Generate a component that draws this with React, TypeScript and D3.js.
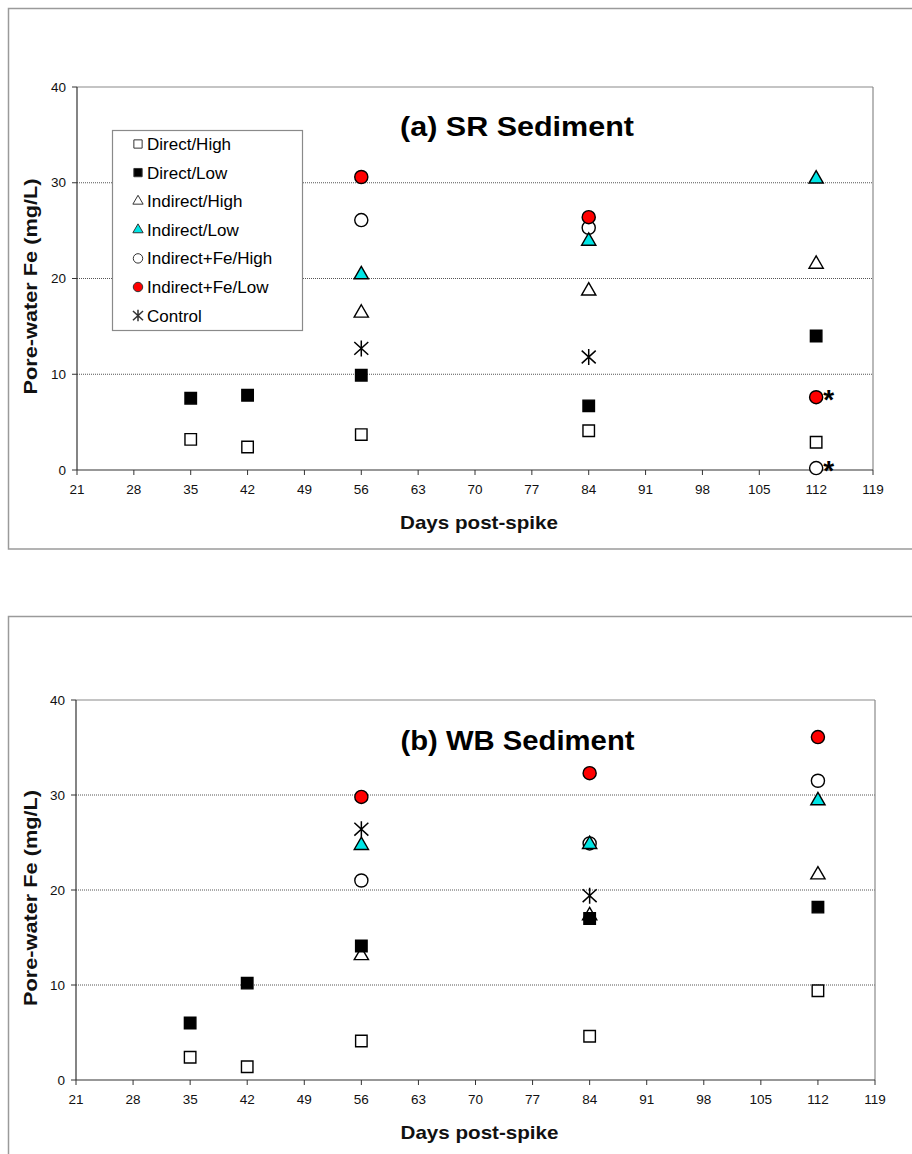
import React from "react";
import * as d3 from "d3";

// Sampling days (x positions of every measurement)
const days = [35, 42, 56, 84, 112];

// Axis tick labels
const xTicks = [21, 28, 35, 42, 49, 56, 63, 70, 77, 84, 91, 98, 105, 112, 119];
const yTicks = [0, 10, 20, 30, 40];
const gridValues = [10, 20, 30];

// Treatment series (legend order)
const seriesNames = [
  "Direct/High",
  "Direct/Low",
  "Indirect/High",
  "Indirect/Low",
  "Indirect+Fe/High",
  "Indirect+Fe/Low",
  "Control",
];

// (a) SR sediment, pore-water Fe (mg/L) per sampling day
const srDirectHigh = [3.2, 2.4, 3.7, 4.1, 2.9];
const srDirectLow = [7.5, 7.8, 9.9, 6.7, 14.0];
const srIndirectHigh = [null, null, 16.4, 18.7, 21.5];
const srIndirectLow = [null, null, 20.4, 23.9, 30.4];
const srIndirectFeHigh = [null, null, 26.1, 25.3, 0.2];
const srIndirectFeLow = [null, null, 30.6, 26.4, 7.6];
const srControl = [null, null, 12.7, 11.8, null];

// (b) WB sediment, pore-water Fe (mg/L) per sampling day
const wbDirectHigh = [2.4, 1.4, 4.1, 4.6, 9.4];
const wbDirectLow = [6.0, 10.2, 14.1, 17.0, 18.2];
const wbIndirectHigh = [null, null, 13.1, 17.3, 21.6];
const wbIndirectLow = [null, null, 24.7, 24.8, 29.4];
const wbIndirectFeHigh = [null, null, 21.0, 24.9, 31.5];
const wbIndirectFeLow = [null, null, 29.8, 32.3, 36.1];
const wbControl = [null, null, 26.4, 19.4, null];

// Points flagged with an asterisk in panel (a)
const srFlagged = [
  { series: "Indirect+Fe/Low", day: 112 },
  { series: "Indirect+Fe/High", day: 112 },
];

type Vals = (number | null)[];

const srValues: Vals[] = [
  srDirectHigh,
  srDirectLow,
  srIndirectHigh,
  srIndirectLow,
  srIndirectFeHigh,
  srIndirectFeLow,
  srControl,
];
const wbValues: Vals[] = [
  wbDirectHigh,
  wbDirectLow,
  wbIndirectHigh,
  wbIndirectLow,
  wbIndirectFeHigh,
  wbIndirectFeLow,
  wbControl,
];

type MarkerStyle = { kind: string; fill: string };
const markerStyles: Record<string, MarkerStyle> = {
  "Direct/High": { kind: "square", fill: "#ffffff" },
  "Direct/Low": { kind: "square", fill: "#000000" },
  "Indirect/High": { kind: "triangle", fill: "#ffffff" },
  "Indirect/Low": { kind: "triangle", fill: "#00e5e5" },
  "Indirect+Fe/High": { kind: "circle", fill: "#ffffff" },
  "Indirect+Fe/Low": { kind: "circle", fill: "#ff0000" },
  Control: { kind: "star", fill: "none" },
};

// open shapes first, filled on top, control last
const drawOrder = [0, 2, 4, 1, 3, 5, 6];

const FONT = "'Liberation Sans', Arial, Helvetica, sans-serif";

function markerPath(kind: string, scale: number): string {
  if (kind === "square") return d3.symbol(d3.symbolSquare, 132 * scale * scale)()!;
  if (kind === "circle") return d3.symbol(d3.symbolCircle, 135 * scale * scale)()!;
  if (kind === "triangle") return d3.symbol(d3.symbolTriangle, 88 * scale * scale)()!;
  // control: an X crossed with a vertical stroke
  const h = 8 * scale;
  const w = 7 * scale;
  const p = d3.path();
  p.moveTo(0, -h);
  p.lineTo(0, h);
  p.moveTo(-w, -h * 0.8);
  p.lineTo(w, h * 0.8);
  p.moveTo(w, -h * 0.8);
  p.lineTo(-w, h * 0.8);
  return p.toString();
}

function Marker({ name, x, y, scale = 1, stroke = "#000", sw = 1.4 }: any) {
  const st = markerStyles[name];
  const d = markerPath(st.kind, scale);
  return (
    <path
      d={d}
      transform={`translate(${x},${y})`}
      fill={st.fill}
      stroke={stroke}
      strokeWidth={st.kind === "star" ? 1.5 : sw}
    />
  );
}

type PanelProps = {
  frameTop: number;
  frameBottom: number;
  left: number;
  right: number;
  top: number;
  bottom: number;
  title: string;
  titleY: number;
  values: Vals[];
  flagged?: { series: string; day: number }[];
  legend?: boolean;
};

function Panel(p: PanelProps) {
  const x = d3.scaleLinear().domain([21, 119]).range([p.left, p.right]);
  const y = d3.scaleLinear().domain([0, 40]).range([p.bottom, p.top]);
  const cx = (p.left + p.right) / 2 + 42;
  const cyLabel = (p.top + p.bottom) / 2 + 8;

  return (
    <g>
      {/* chart frame */}
      <rect
        x={8.5}
        y={p.frameTop}
        width={930}
        height={p.frameBottom - p.frameTop}
        fill="#ffffff"
        stroke="#9a9a9a"
        strokeWidth={1.5}
      />
      {/* gridlines */}
      {gridValues.map((v) => (
        <line
          key={v}
          x1={p.left}
          x2={p.right}
          y1={y(v)}
          y2={y(v)}
          stroke="#555"
          strokeWidth={1}
          strokeDasharray="1 1"
        />
      ))}
      {/* plot area border */}
      <line x1={p.left} x2={p.right} y1={p.top} y2={p.top} stroke="#8a8a8a" strokeWidth={1.2} />
      <line x1={p.right} x2={p.right} y1={p.top} y2={p.bottom} stroke="#8a8a8a" strokeWidth={1.2} />
      {/* axes */}
      <line x1={p.left} x2={p.left} y1={p.top} y2={p.bottom} stroke="#333" strokeWidth={1.2} />
      <line x1={p.left} x2={p.right} y1={p.bottom} y2={p.bottom} stroke="#333" strokeWidth={1.2} />
      {yTicks.map((t) => (
        <g key={"y" + t}>
          <line x1={p.left - 5} x2={p.left} y1={y(t)} y2={y(t)} stroke="#333" strokeWidth={1} />
          <text
            x={p.left - 11}
            y={y(t) + 4.5}
            textAnchor="end"
            fontFamily={FONT}
            fontSize={13.5}
            fill="#111"
          >
            {t}
          </text>
        </g>
      ))}
      {xTicks.map((t) => (
        <g key={"x" + t}>
          <line x1={x(t)} x2={x(t)} y1={p.bottom} y2={p.bottom + 5} stroke="#333" strokeWidth={1} />
          <text
            x={x(t)}
            y={p.bottom + 24}
            textAnchor="middle"
            fontFamily={FONT}
            fontSize={13.5}
            fill="#111"
          >
            {t}
          </text>
        </g>
      ))}
      {/* axis titles */}
      <text
        x={cx - 38}
        y={p.bottom + 59}
        textAnchor="middle"
        fontFamily={FONT}
        fontWeight="bold"
        fontSize={19}
        textLength={158}
        lengthAdjust="spacingAndGlyphs"
        fill="#111"
      >
        Days post-spike
      </text>
      <text
        transform={`translate(37,${cyLabel}) rotate(-90)`}
        textAnchor="middle"
        fontFamily={FONT}
        fontWeight="bold"
        fontSize={19}
        textLength={216}
        lengthAdjust="spacingAndGlyphs"
        fill="#111"
      >
        Pore-water Fe (mg/L)
      </text>
      {/* panel title */}
      <text
        x={cx}
        y={p.titleY}
        textAnchor="middle"
        fontFamily={FONT}
        fontWeight="bold"
        fontSize={27}
        textLength={234}
        lengthAdjust="spacingAndGlyphs"
        fill="#000"
      >
        {p.title}
      </text>
      {/* data markers */}
      {drawOrder.map((si) => {
        const name = seriesNames[si];
        return (
          <g key={name}>
            {p.values[si].map((v, i) =>
              v == null ? null : <Marker key={i} name={name} x={x(days[i])} y={y(v)} />
            )}
          </g>
        );
      })}
      {/* flagged points */}
      {(p.flagged || []).map((f, k) => {
        const si = seriesNames.indexOf(f.series);
        const v = p.values[si][days.indexOf(f.day)] as number;
        return (
          <text
            key={k}
            x={x(f.day) + 7}
            y={y(v) + 12}
            fontFamily={FONT}
            fontWeight="bold"
            fontSize={28}
            fill="#000"
          >
            *
          </text>
        );
      })}
      {/* legend */}
      {p.legend && (
        <g>
          <rect x={112.5} y={130.5} width={190} height={200} fill="#fff" stroke="#8a8a8a" strokeWidth={1.2} />
          {seriesNames.map((name, i) => {
            const ry = 144 + i * 28.6;
            return (
              <g key={name}>
                <Marker name={name} x={138} y={ry} scale={0.72} stroke="#333" sw={1} />
                <text x={147} y={ry + 6} fontFamily={FONT} fontSize={17} fill="#000">
                  {name}
                </text>
              </g>
            );
          })}
        </g>
      )}
    </g>
  );
}

export default function App() {
  return (
    <svg
      width={912}
      height={1154}
      style={{ position: "absolute", left: 0, top: 0, background: "#fff" }}
    >
      <Panel
        frameTop={8.5}
        frameBottom={549}
        left={77}
        right={873}
        top={87}
        bottom={470}
        title="(a) SR Sediment"
        titleY={136}
        values={srValues}
        flagged={srFlagged}
        legend
      />
      <Panel
        frameTop={616.5}
        frameBottom={1170}
        left={76}
        right={875}
        top={700}
        bottom={1080}
        title="(b) WB Sediment"
        titleY={750}
        values={wbValues}
      />
    </svg>
  );
}
